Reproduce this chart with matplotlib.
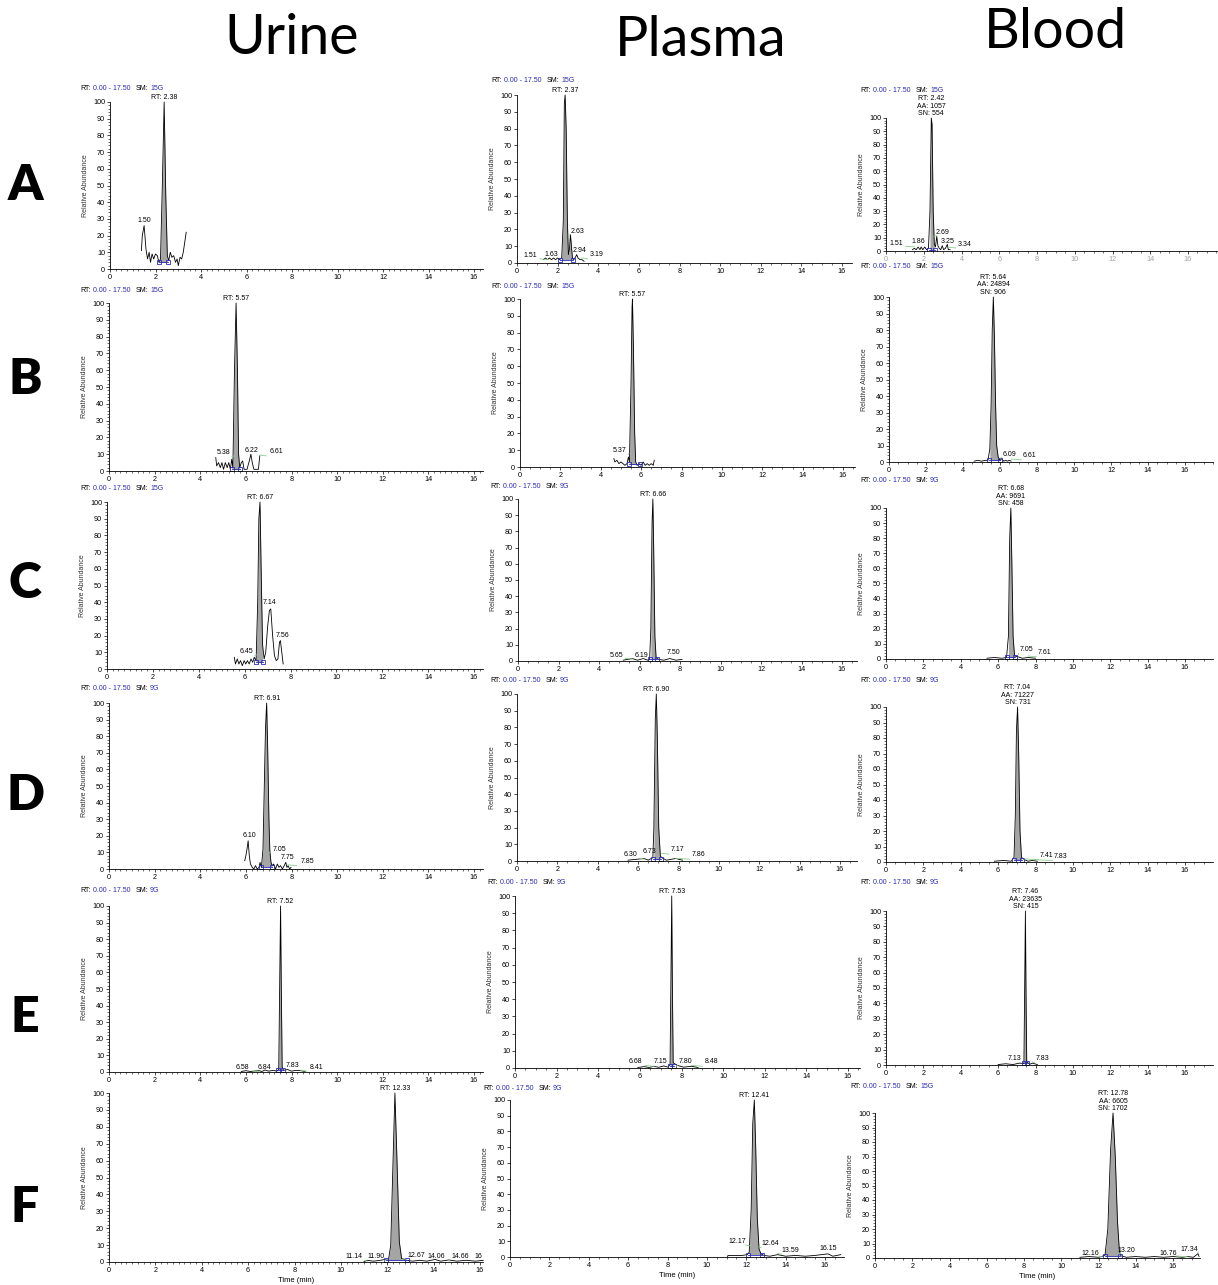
import matplotlib
matplotlib.use("Agg")
import matplotlib.pyplot as plt
from matplotlib.ticker import MultipleLocator

W, H = 1218, 1285
plt.rcParams['font.family'] = ['Liberation Sans', 'DejaVu Sans']

columns = ["Urine", "Plasma", "Blood"]
rows = ["A", "B", "C", "D", "E", "F"]

# peak annotations
urine_rt = ["2.38", "5.57", "6.67", "6.91", "7.52", "12.33"]
plasma_rt = ["2.37", "5.57", "6.66", "6.90", "7.53", "12.41"]
blood_rt = ["2.42", "5.64", "6.68", "7.04", "7.46", "12.78"]
blood_aa = ["1057", "24894", "9691", "71227", "23635", "6605"]
blood_sn = ["554", "906", "458", "731", "415", "1702"]
urine_sm = ["15G", "15G", "15G", "9G", "9G", None]
plasma_sm = ["15G", "15G", "9G", "9G", "9G", "9G"]
blood_sm = ["15G", "15G", "9G", "9G", "9G", "15G"]

# traces (RT min, relative abundance)
urine_a = [(1.38, 11), (1.42, 20), (1.50, 26), (1.58, 12), (1.65, 6), (1.72, 10), (1.78, 4), (1.85, 9),
           (1.92, 6), (2.0, 9), (2.08, 8), (2.15, 4), (2.22, 6), (2.30, 50), (2.38, 100), (2.45, 45),
           (2.52, 8), (2.58, 5), (2.65, 10), (2.72, 7), (2.80, 8), (2.88, 4), (2.95, 6), (3.0, 2),
           (3.08, 7), (3.15, 6), (3.22, 10), (3.35, 22)]
plasma_a = [(1.3, 2), (1.4, 3), (1.5, 2), (1.6, 3), (1.7, 2), (1.8, 3), (1.9, 2), (2.0, 3), (2.1, 2),
            (2.2, 3), (2.28, 25), (2.33, 95), (2.37, 100), (2.42, 80), (2.48, 25), (2.53, 5), (2.58, 8),
            (2.63, 17), (2.68, 10), (2.73, 3), (2.8, 2), (2.9, 4), (2.94, 5), (3.0, 3), (3.1, 2),
            (3.2, 2), (3.3, 1)]
blood_a = [(1.4, 1), (1.5, 2), (1.6, 1), (1.7, 3), (1.8, 1), (1.86, 3), (1.95, 1), (2.05, 3), (2.15, 1),
           (2.25, 2), (2.33, 30), (2.40, 100), (2.44, 95), (2.50, 30), (2.56, 5), (2.62, 3), (2.69, 11),
           (2.75, 4), (2.82, 2), (2.9, 1), (2.98, 4), (3.05, 1), (3.15, 2), (3.25, 5), (3.3, 1), (3.4, 1)]

urine_b = [(4.68, 8), (4.72, 3), (4.8, 5), (4.88, 2), (4.95, 5), (5.02, 1), (5.1, 5), (5.18, 2),
           (5.25, 5), (5.32, 1), (5.38, 7), (5.43, 2), (5.50, 60), (5.57, 100), (5.63, 60), (5.68, 10),
           (5.73, 2), (5.8, 5), (5.86, 6), (5.92, 1), (6.05, 1), (6.15, 6), (6.22, 10), (6.28, 5),
           (6.35, 1), (6.45, 1), (6.55, 1), (6.61, 9)]
plasma_b = [(4.65, 5), (4.7, 3), (4.8, 4), (4.9, 2), (5.0, 3), (5.1, 2), (5.2, 1), (5.3, 2), (5.37, 6),
            (5.42, 3), (5.5, 50), (5.55, 95), (5.57, 100), (5.62, 70), (5.68, 20), (5.73, 3), (5.8, 1),
            (5.9, 2), (6.0, 1), (6.1, 3), (6.2, 1), (6.3, 2), (6.4, 1), (6.5, 2), (6.6, 1), (6.65, 4)]
blood_b = [(4.6, 0.5), (4.8, 1), (5.0, 0.5), (5.2, 1), (5.35, 1), (5.45, 8), (5.52, 35), (5.58, 80),
           (5.64, 100), (5.70, 75), (5.76, 35), (5.82, 10), (5.9, 3), (6.0, 1), (6.09, 2), (6.2, 0.5),
           (6.3, 1), (6.4, 0.5), (6.5, 1), (6.6, 0.5)]

urine_c = [(5.55, 7), (5.6, 3), (5.68, 6), (5.75, 3), (5.82, 5), (5.9, 2), (5.98, 5), (6.05, 3),
           (6.12, 5), (6.2, 3), (6.28, 6), (6.35, 4), (6.42, 7), (6.5, 5), (6.57, 40), (6.62, 90),
           (6.67, 100), (6.72, 60), (6.78, 15), (6.85, 6), (6.92, 10), (7.0, 25), (7.08, 35), (7.14, 36),
           (7.22, 20), (7.3, 8), (7.38, 5), (7.45, 6), (7.52, 16), (7.56, 17), (7.62, 10), (7.68, 3)]
plasma_c = [(5.2, 0.5), (5.4, 1), (5.65, 1.5), (5.9, 0.5), (6.19, 1.5), (6.4, 0.5), (6.5, 1), (6.56, 20),
            (6.62, 85), (6.66, 100), (6.70, 70), (6.76, 15), (6.82, 2), (6.95, 1), (7.2, 0.5), (7.5, 1.5),
            (7.8, 0.5), (8.1, 1)]
blood_c = [(5.4, 0.5), (5.8, 1), (6.2, 0.5), (6.45, 1), (6.55, 15), (6.62, 80), (6.68, 100), (6.74, 60),
           (6.8, 15), (6.88, 2), (7.05, 1.5), (7.3, 0.5), (7.61, 1), (8.0, 0.5)]

urine_d = [(5.95, 5), (6.0, 8), (6.05, 12), (6.10, 17), (6.15, 8), (6.2, 3), (6.28, 1), (6.35, 0),
           (6.42, 2), (6.5, 0), (6.58, 1), (6.62, 4), (6.68, 1), (6.75, 12), (6.8, 45), (6.86, 85),
           (6.91, 100), (6.96, 70), (7.01, 30), (7.05, 11), (7.1, 4), (7.15, 2), (7.22, 3), (7.3, 0),
           (7.38, 3), (7.45, 1), (7.52, 2), (7.6, 0), (7.68, 2), (7.75, 4), (7.8, 1), (7.85, 2),
           (7.92, 0), (7.98, 1)]
plasma_d = [(5.5, 0.5), (5.9, 1), (6.3, 1.5), (6.5, 0.5), (6.73, 2), (6.78, 20), (6.85, 85), (6.90, 100),
            (6.95, 75), (7.02, 20), (7.1, 3), (7.17, 2), (7.4, 0.5), (7.86, 1.5), (8.2, 0.5)]
blood_d = [(5.8, 0.5), (6.3, 1), (6.7, 0.5), (6.85, 3), (6.92, 30), (6.98, 85), (7.04, 100), (7.10, 70),
           (7.17, 20), (7.25, 3), (7.41, 1.5), (7.6, 0.5), (7.83, 1), (8.1, 0.5)]

urine_e = [(5.8, 0.3), (6.0, 0.8), (6.2, 0.3), (6.4, 0.6), (6.58, 0.8), (6.7, 0.3), (6.84, 1.2), (7.0, 0.5),
           (7.2, 1), (7.35, 0.5), (7.44, 1.5), (7.48, 50), (7.52, 100), (7.55, 55), (7.59, 3), (7.65, 1),
           (7.83, 1.5), (8.0, 0.5), (8.2, 1), (8.41, 0.8), (8.6, 0.3)]
plasma_e = [(5.9, 0.3), (6.2, 0.8), (6.45, 0.3), (6.68, 1), (6.9, 0.4), (7.15, 1.2), (7.35, 0.5),
            (7.45, 2), (7.49, 50), (7.53, 100), (7.56, 50), (7.6, 3), (7.8, 1.5), (8.1, 0.5), (8.48, 1),
            (8.8, 0.3)]
blood_e = [(6.0, 0.3), (6.4, 0.8), (6.8, 0.3), (7.13, 1.2), (7.38, 1), (7.42, 50), (7.46, 100), (7.49, 50),
           (7.53, 2), (7.7, 0.5), (7.83, 1.2), (8.1, 0.3)]

urine_f = [(11.0, 0.3), (11.14, 1), (11.4, 0.5), (11.7, 1), (11.90, 1.5), (12.05, 1), (12.15, 10),
           (12.25, 60), (12.33, 100), (12.42, 60), (12.52, 12), (12.62, 2), (12.67, 2), (12.85, 1),
           (13.1, 0.5), (13.4, 1), (13.7, 0.5), (14.06, 1.5), (14.3, 0.5), (14.66, 1.2), (15.0, 0.5),
           (15.4, 1), (15.8, 0.5), (16.14, 1)]
plasma_f = [(11.05, 0), (11.07, 1), (11.4, 1), (11.8, 1), (12.05, 1.5), (12.15, 3), (12.25, 30),
            (12.33, 85), (12.41, 100), (12.48, 70), (12.56, 25), (12.65, 5), (12.75, 2), (12.9, 1),
            (13.2, 0.5), (13.59, 1.5), (14.0, 0.5), (14.5, 1), (15.0, 0.5), (15.5, 1), (16.15, 2),
            (16.4, 0.5), (16.8, 1.5)]
blood_f = [(11.0, 0.5), (11.5, 1), (12.0, 0.5), (12.16, 1), (12.35, 2), (12.5, 20), (12.65, 75),
           (12.78, 100), (12.9, 70), (13.02, 25), (13.12, 5), (13.2, 1.5), (13.5, 0.5), (14.0, 1),
           (14.5, 0.5), (15.0, 1), (15.5, 0.5), (16.0, 1), (16.5, 0.5), (16.76, 1), (17.1, 0.5),
           (17.34, 3), (17.4, 1)]

# integrated areas (start, end, baseline)
urine_areas = [(2.15, 2.55, 4), (5.38, 5.73, 1), (6.5, 6.82, 4), (6.66, 7.15, 1.5), (7.42, 7.62, 1), (11.95, 12.85, 1)]
plasma_areas = [(2.12, 2.75, 2), (5.42, 5.95, 1.5), (6.52, 6.85, 1), (6.75, 7.12, 1), (7.45, 7.62, 1), (12.1, 12.8, 1.5)]
blood_areas = [(2.3, 2.58, 1), (5.4, 6.0, 1), (6.5, 6.9, 1), (6.85, 7.28, 1), (7.38, 7.55, 1), (12.35, 13.15, 1.5)]

# small peak labels (text, x, y)
urine_labels = [
    [("1.50", 1.50, 29)],
    [("5.38", 5.03, 11), ("6.22", 6.25, 12), ("6.61", 7.34, 11.5)],
    [("6.45", 6.07, 10.5), ("7.14", 7.09, 40), ("7.56", 7.67, 20)],
    [("6.10", 6.14, 20), ("7.05", 7.46, 12), ("7.75", 7.81, 7), ("7.85", 8.68, 4.5)],
    [("6.58", 5.85, 2.6), ("6.84", 6.83, 3), ("7.83", 8.04, 4), ("8.41", 9.12, 3)],
    [("11.14", 10.57, 3), ("11.90", 11.51, 3.5), ("12.67", 13.27, 4), ("14.06", 14.13, 3), ("14.66", 15.14, 3), ("16", 15.95, 3)],
]
plasma_labels = [
    [("1.51", 0.67, 4.5), ("1.63", 1.71, 5), ("2.63", 2.97, 19), ("2.94", 3.10, 7.5), ("3.19", 3.93, 5)],
    [("5.37", 4.95, 10)],
    [("5.65", 4.85, 3.7), ("6.19", 6.1, 3.7), ("7.50", 7.7, 5)],
    [("6.30", 5.64, 3.6), ("6.73", 6.58, 5.4), ("7.17", 7.97, 6.6), ("7.86", 9.0, 3.6)],
    [("6.68", 5.8, 3.5), ("7.15", 6.99, 3.5), ("7.80", 8.2, 3.5), ("8.48", 9.45, 3.5)],
    [("12.17", 11.54, 9.6), ("12.64", 13.2, 8.5), ("13.59", 14.25, 4.3), ("16.15", 16.17, 5.4)],
]
blood_labels = [
    [("1.51", 0.57, 5.6), ("1.86", 1.7, 6.8), ("2.69", 3.0, 13.6), ("3.25", 3.25, 7.3), ("3.34", 4.14, 4.8)],
    [("6.09", 6.49, 4.8), ("6.61", 7.61, 3.8)],
    [("7.05", 7.5, 6), ("7.61", 8.5, 4)],
    [("7.41", 8.6, 4), ("7.83", 9.35, 3.5)],
    [("7.13", 6.9, 4.5), ("7.83", 8.4, 4)],
    [("12.16", 11.57, 3.4), ("13.20", 13.5, 5.2), ("16.76", 15.73, 3.4), ("17.34", 16.9, 6.2)],
]

# ---- layout (pixel geometry: x of 0, x of 16, axis end, y of 0, y of 100) ----
geom = {
    ("A", 0): (110, 474, 483, 269, 102), ("A", 1): (517, 842, 852, 263, 95), ("A", 2): (886, 1188, 1217, 251, 118),
    ("B", 0): (109, 474, 483, 471, 303), ("B", 1): (520, 843, 855, 467, 299), ("B", 2): (889, 1185, 1213, 462, 297),
    ("C", 0): (107, 474, 483, 669, 502), ("C", 1): (518, 842, 857, 661, 499), ("C", 2): (886, 1185, 1213, 659, 508),
    ("D", 0): (109, 474, 483, 869, 703), ("D", 1): (517, 840, 857, 861, 694), ("D", 2): (886, 1185, 1213, 862, 707),
    ("E", 0): (109, 474, 483, 1072, 906), ("E", 1): (515, 848, 860, 1068, 896), ("E", 2): (886, 1185, 1213, 1065, 911),
    ("F", 0): (109, 480, 483, 1262, 1093), ("F", 1): (510, 825, 844, 1257, 1100), ("F", 2): (875, 1173, 1200, 1258, 1113),
}
header_pos = {
    ("A", 0): (80, 89), ("B", 0): (80, 291), ("C", 0): (80, 489), ("D", 0): (80, 689), ("E", 0): (80, 890),
    ("A", 1): (491, 81), ("B", 1): (491, 286), ("C", 1): (490, 486), ("D", 1): (490, 681), ("E", 1): (487, 882), ("F", 1): (483, 1089),
    ("A", 2): (860, 91), ("B", 2): (860, 267), ("C", 2): (860, 481), ("D", 2): (860, 681), ("E", 2): (860, 883), ("F", 2): (850, 1087),
}

BLUE = '#2a2ab8'
GREEN = '#8ccf8c'

fig = plt.figure(figsize=(W / 100, H / 100), dpi=100)


def header(px, py, sm):
    parts = [("RT:", 0, 'black'), ("0.00 - 17.50", 13, BLUE), ("SM:", 56, 'black'), (sm, 70, BLUE)]
    for t, dx, c in parts:
        fig.text((px + dx) / W, 1 - py / H, t, fontsize=5, color=c, va='center', ha='left')


def panel(key, trace, area, labels, main_text, col):
    x0, x16, xend, y0, y100 = geom[key]
    ax = fig.add_axes([x0 / W, 1 - y0 / H, (xend - x0) / W, (y0 - y100) / H])
    ax.set_xlim(0, 16 * (xend - x0) / (x16 - x0))
    ax.set_ylim(0, 100)
    ax.patch.set_alpha(0)
    for s in ['top', 'right']:
        ax.spines[s].set_visible(False)
    for s in ['left', 'bottom']:
        ax.spines[s].set_linewidth(0.6)
    ax.xaxis.set_major_locator(MultipleLocator(2))
    ax.yaxis.set_major_locator(MultipleLocator(10))
    if col == 1:
        ax.xaxis.set_minor_locator(MultipleLocator(0.5))
    else:
        ax.xaxis.set_minor_locator(MultipleLocator(0.25 if col == 0 else 0.5))
        ax.yaxis.set_minor_locator(MultipleLocator(2))
    ax.tick_params(which='major', length=2.5, width=0.5, pad=1, labelsize=5.2)
    ax.tick_params(which='minor', length=1.3, width=0.4)
    if key == ("A", 2):
        ax.tick_params(axis='x', labelcolor='#a0a0a0')
    ax.set_ylabel("Relative Abundance", fontsize=5, labelpad=3, color='#333333')

    xs = [p[0] for p in trace]
    ys = [p[1] for p in trace]
    a, b, base = area
    sx = [x for x in xs if a <= x <= b]
    sy = [y for x, y in zip(xs, ys) if a <= x <= b]
    ax.fill_between(sx, sy, base, color='#a5a5a5', lw=0)
    ax.plot(xs, ys, color='black', lw=0.6, clip_on=False)
    ax.plot([a, b], [base, base], color=BLUE, lw=0.6, marker='s', ms=2.6, mfc='none', mew=0.6)

    peak = trace[max(range(len(ys)), key=lambda i: ys[i])][0]
    ax.text(peak, 100.8, main_text, ha='center', va='bottom', fontsize=5, linespacing=1.05, clip_on=False)
    for t, x, y in labels:
        ax.text(x, y, t, ha='center', va='center', fontsize=5, clip_on=False)
        if abs(x - float(t)) > 0.25 and t != "16":
            ax.plot([min(x, float(t)) + (0.45 if x < float(t) else 0), max(x, float(t)) - (0.45 if x > float(t) else 0)],
                    [y - 2, y - 2.5], color=GREEN, lw=0.6)
    return ax


traces = {0: [urine_a, urine_b, urine_c, urine_d, urine_e, urine_f],
          1: [plasma_a, plasma_b, plasma_c, plasma_d, plasma_e, plasma_f],
          2: [blood_a, blood_b, blood_c, blood_d, blood_e, blood_f]}
areas = {0: urine_areas, 1: plasma_areas, 2: blood_areas}
labels = {0: urine_labels, 1: plasma_labels, 2: blood_labels}
sms = {0: urine_sm, 1: plasma_sm, 2: blood_sm}

for i, r in enumerate(rows):
    for c in range(3):
        if c == 0:
            mt = "RT: " + urine_rt[i]
        elif c == 1:
            mt = "RT: " + plasma_rt[i]
        else:
            mt = "RT: %s\nAA: %s\nSN: %s" % (blood_rt[i], blood_aa[i], blood_sn[i])
        ax = panel((r, c), traces[c][i], areas[c][i], labels[c][i], mt, c)
        if sms[c][i] is not None:
            header(*header_pos[(r, c)], sms[c][i])
        if r == "F":
            ax.set_xlabel("Time (min)", fontsize=5.5, labelpad=2)

# column and row titles
for name, px, py in zip(columns, [292, 701, 1055], [39, 40, 32]):
    fig.text(px / W, 1 - py / H, name, fontsize=40, family=['Lato', 'DejaVu Sans'], ha='center', va='center')
for name, py in zip(rows, [185, 379, 584, 796, 1018, 1208]):
    fig.text(25 / W, 1 - py / H, name, fontsize=36, family=['Lato', 'DejaVu Sans'], weight='heavy', ha='center', va='center')

fig.savefig("out.png", dpi=100)
